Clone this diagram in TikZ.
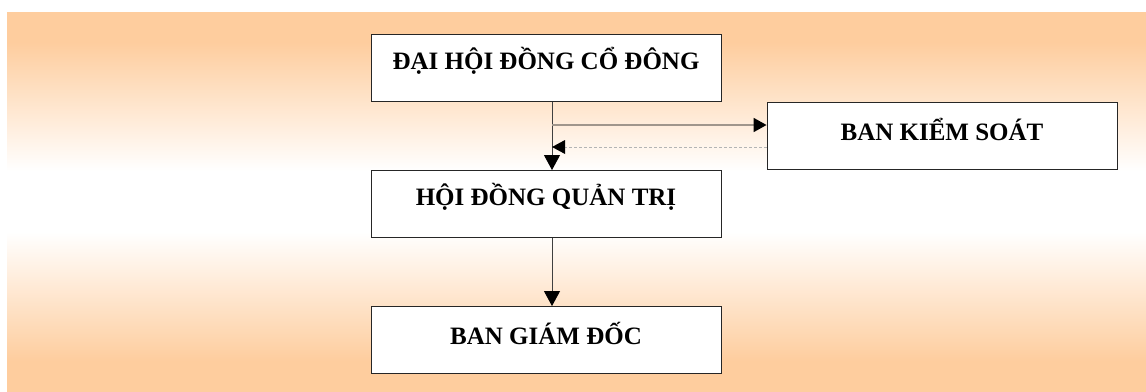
\documentclass[tikz,border=0pt]{standalone}
\usepackage{fontspec}
\setmainfont{Liberation Serif}
\usetikzlibrary{arrows.meta}
\definecolor{peach}{RGB}{254,205,158}
\definecolor{linkgray}{RGB}{160,150,140}
\definecolor{dotgray}{RGB}{180,180,180}
% band: peach at top and bottom, white in the middle
\pgfdeclareverticalshading{peachband}{100bp}{%
  color(0bp)=(peach); color(29bp)=(peach); color(46bp)=(white);
  color(54bp)=(white); color(71bp)=(peach); color(100bp)=(peach)}
\tikzset{
  orgbox/.style={draw=black!85, line width=0.9pt, fill=white,
    minimum width=350pt, minimum height=67pt, inner sep=0pt},
  orgtext/.style={font=\fontsize{25}{28}\selectfont\bfseries},
  link/.style={-{Triangle[length=15pt,width=16pt,color=black]}},
}
\begin{document}
\begin{tikzpicture}[x=1pt,y=-1pt]
\useasboundingbox (0,0) rectangle (1146,391);
\shade[shading=peachband] (7,12) rectangle (1146,391);

\node[orgbox] (dh) at (546,68) {};
\node[orgtext] (dht) at (546,61) {ĐẠI HỘI ĐỒNG CỔ ĐÔNG};
\node[orgbox] (hd) at (546,204) {};
\node[orgtext] (hdt) at (546,197) {HỘI ĐỒNG QUẢN TRỊ};
\node[orgbox] (bg) at (546,340) {};
\node[orgtext] (bgt) at (546,333) {BAN GIÁM ĐỐC};
\node[orgbox] (bk) at (942,136) {};
\node[orgtext] (bkt) at (942,129) {BAN KIỂM SOÁT};

\coordinate (jA) at (552,125);
\coordinate (jB) at (552,147);

% main chain
\draw[link, draw=black!75, line width=0.9pt] (dh.south -| jA) -- (hd.north -| jA);
\draw[link, draw=black!75, line width=0.9pt] (hd.south -| jA) -- (bg.north -| jA);
% supervision links
\draw[draw=linkgray, line width=1.8pt, -{Triangle[length=13pt,width=14pt,color=black]}] (jA) -- (bk.west |- jA);
\draw[dotgray, densely dashed, line width=0.6pt] (bk.west |- jB) -- ([xshift=12pt]jB);
\fill[black] (jB) -- ++(13,-7) -- ++(0,14) -- cycle;
\end{tikzpicture}
\end{document}
